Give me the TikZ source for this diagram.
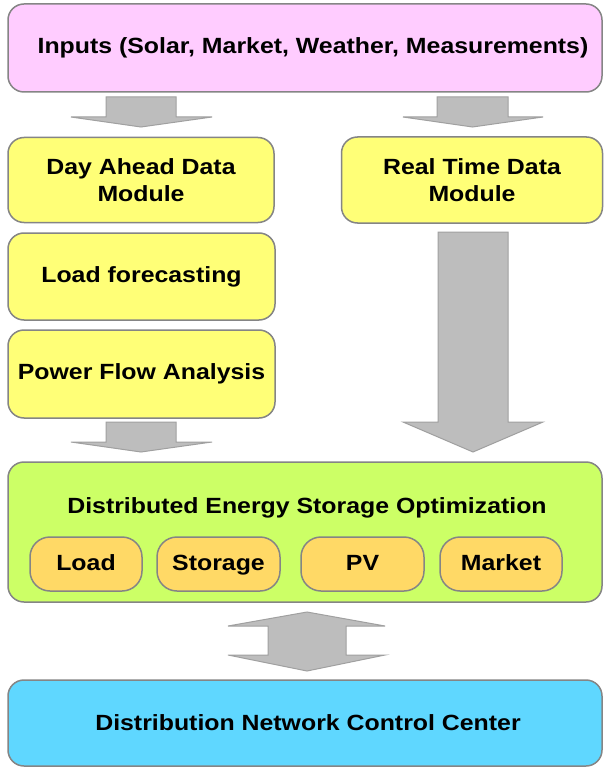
\documentclass[tikz,border=0pt]{standalone}
\usepackage{fontspec}
\setmainfont{Liberation Sans}[FakeStretch=1.13]
\definecolor{pinkc}{HTML}{FFCCFF}
\definecolor{yellowc}{HTML}{FFFF77}
\definecolor{greenc}{HTML}{CCFF66}
\definecolor{orangec}{HTML}{FFD966}
\definecolor{bluec}{HTML}{5FD7FF}
\definecolor{boxborder}{HTML}{858585}
\definecolor{arrowfill}{HTML}{BDBDBD}
\definecolor{arrowborder}{HTML}{A0A0A0}
\begin{document}
\begin{tikzpicture}[x=1pt,y=-1pt,
  box/.style={draw=boxborder, line width=1.5pt, rounded corners=16pt, align=center, inner sep=0pt,
    font=\bfseries\fontsize{22}{27}\selectfont},
  subbox/.style={box, fill=orangec, rounded corners=20pt, minimum height=54pt, text height=16pt, text depth=4pt},
  blockarrow/.style={fill=arrowfill, draw=arrowborder, line width=1pt, line join=miter},
  lbl/.style={inner sep=0pt, font=\bfseries\fontsize{22}{27}\selectfont}]
\useasboundingbox (0,0) rectangle (603,767);
\fill[white] (0,0) rectangle (603,767);

% boxes
\node[box, fill=pinkc, minimum width=594pt, minimum height=88pt] (inputs) at (305,48) {};
\node[lbl] (inputstxt) at (313,48) {Inputs (Solar, Market, Weather, Measurements)};
\node[box, fill=yellowc, minimum width=266pt, minimum height=85pt] (dayahead) at (141,180) {Day Ahead Data\\Module};
\node[box, fill=yellowc, minimum width=261pt, minimum height=86pt] (realtime) at (472,180) {Real Time Data\\Module};
\node[box, fill=yellowc, minimum width=267pt, minimum height=87pt] (loadfc) at (141.5,276.5) {Load forecasting};
\node[box, fill=yellowc, minimum width=267pt, minimum height=88pt] (pfa) at (141.5,374) {Power Flow Analysis};
\node[box, fill=greenc, minimum width=594pt, minimum height=140pt] (deso) at (305,532) {};
\node[lbl] (desotxt) at (307,508) {Distributed Energy Storage Optimization};
\node[subbox, minimum width=112pt] (load) at (86,564) {Load};
\node[subbox, minimum width=123pt] (storage) at (218.5,564) {Storage};
\node[subbox, minimum width=123pt] (pv) at (362.5,564) {PV};
\node[subbox, minimum width=122pt] (market) at (501,564) {Market};
\node[box, fill=bluec, minimum width=594pt, minimum height=86pt] (dncc) at (305,723) {};
\node[lbl] (dncctxt) at (308,723) {Distribution Network Control Center};

% block arrows
\draw[blockarrow] (106,97) -- (176,97) -- (176,117) -- (212,117) -- (141,127) -- (71,117) -- (106,117) -- cycle;
\draw[blockarrow] (437,97) -- (508,97) -- (508,117) -- (543,117) -- (472.5,127) -- (403,117) -- (437,117) -- cycle;
\draw[blockarrow] (106,422) -- (176,422) -- (176,442) -- (212,442) -- (141,452) -- (71,442) -- (106,442) -- cycle;
\draw[blockarrow] (438,232) -- (508,232) -- (508,422) -- (543,422) -- (473,452) -- (403,422) -- (438,422) -- cycle;
\draw[blockarrow] (307,612) -- (385,626) -- (346,626) -- (346,655) -- (385,655) -- (307,671)
  -- (228,655) -- (268,655) -- (268,626) -- (228,626) -- cycle;
\end{tikzpicture}
\end{document}
